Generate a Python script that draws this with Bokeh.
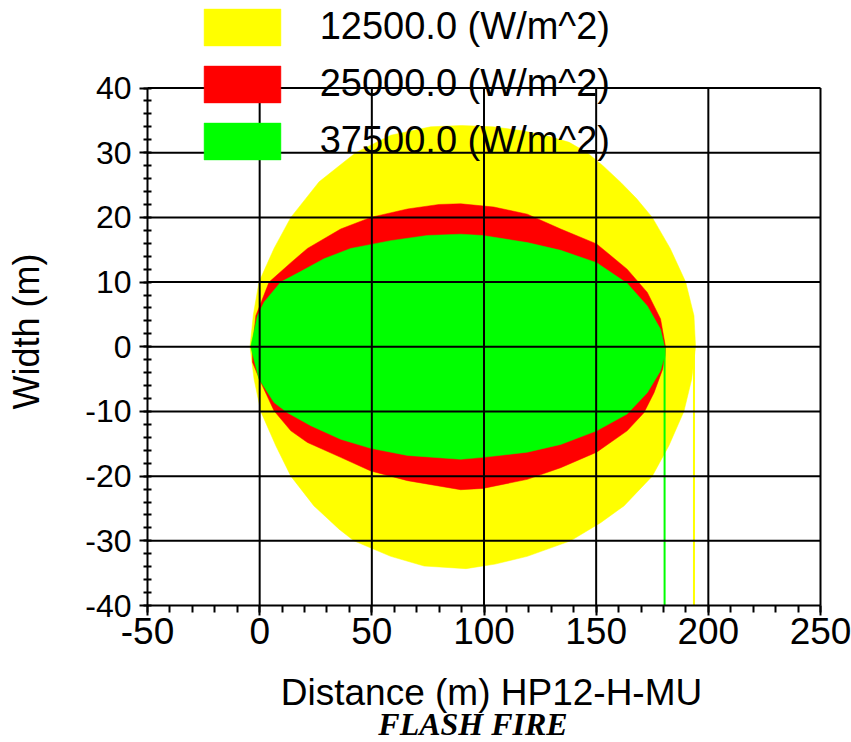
import math
from bokeh.plotting import figure
from bokeh.models import (Range1d, Legend, LegendItem, Label, SingleIntervalTicker,
                          NumeralTickFormatter, ColumnDataSource)
from bokeh.embed import file_html
from bokeh.resources import INLINE

# Flash-fire radiation contours (distance along wind, width across wind), metres
levels = ["12500.0 (W/m^2)", "25000.0 (W/m^2)", "37500.0 (W/m^2)"]
colors = ["#FFFF00", "#FF0000", "#00FF00"]

yellow_x = [-4.3, -2.8, -0.3, 6.4, 13.9, 26.5, 42.8, 58.4, 76.2, 90.0, 104.0, 117.0,
            128.0, 138.0, 146.0, 153.0, 161.0, 168.0, 175.0, 183.0, 189.9, 193.6, 194.3,
            192.6, 189.1, 182.4, 175.0, 162.4, 152.0, 138.6, 119.3, 105.0, 92.0, 73.3,
            58.4, 42.0, 35.4, 24.2, 13.9, 7.2, 0.5, -2.5]
yellow_y = [0.0, 5.0, 10.0, 15.2, 20.0, 25.5, 30.0, 32.7, 34.0, 34.2, 34.0, 33.4,
            32.6, 31.6, 30.0, 28.0, 25.4, 22.9, 20.0, 15.2, 10.0, 4.8, 0.0,
            -5.0, -10.0, -15.3, -20.0, -24.6, -27.2, -30.0, -32.4, -33.6, -34.3, -33.9,
            -32.4, -30.0, -28.2, -24.6, -20.0, -15.3, -10.0, -5.0]

red_x = [-3.2, -1.7, 4.2, 13.9, 21.3, 36.1, 49.5, 65.9, 80.0, 89.6, 104.4, 119.3,
         134.2, 150.2, 163.8, 172.8, 178.7, 180.9,
         180.7, 179.6, 175.8, 171.3, 163.8, 150.2, 134.2, 119.3, 99.5, 89.6, 65.9,
         49.5, 36.1, 21.3, 13.9, 6.4, 0.5, -3.2]
red_y = [0.0, 4.8, 10.0, 13.0, 15.2, 18.2, 20.0, 21.3, 22.0, 22.1, 21.6, 20.5,
         18.2, 15.9, 12.0, 8.4, 4.3, 0.0,
         -1.4, -3.5, -7.1, -10.2, -13.0, -16.3, -18.7, -20.5, -21.9, -22.1, -20.7,
         -19.2, -17.1, -14.8, -13.0, -9.9, -5.5, -2.4]

green_x = [-4.0, -1.0, 2.0, 9.4, 17.6, 28.7, 40.6, 58.4, 74.7, 89.6, 99.5, 119.3,
           134.2, 150.2, 163.8, 172.8, 178.7, 180.5,
           180.5, 178.7, 172.8, 163.8, 150.2, 134.2, 119.3, 99.5, 89.6, 65.9,
           49.5, 36.1, 22.8, 12.4, 6.4, -0.3]
green_y = [0.0, 4.8, 6.9, 10.0, 11.5, 13.6, 15.2, 16.4, 17.2, 17.4, 17.2, 16.1,
           14.9, 13.0, 9.8, 6.3, 2.7, 0.0,
           -1.4, -3.7, -7.1, -10.4, -13.0, -15.1, -16.3, -17.1, -17.4, -16.8,
           -15.7, -14.3, -12.2, -10.2, -8.6, -5.0]

# contour closing lines running down to the lower edge
rim_x = [180.5, 193.6]
rim_top = [0.0, 0.0]
rim_bottom = [-40.0, -40.0]
rim_colors = ["#00FF00", "#FFFF00"]

# axis extents and grid positions
x_lo, x_hi = -50, 250
y_lo, y_hi = -40, 40
grid_x = [0, 50, 100, 150, 200, 250]
grid_y = [-30, -20, -10, 0, 10, 20, 30, 40]

FONT = "Liberation Sans"
W, H = 851, 742
# pixel box of the data area inside the canvas
BOX_L, BOX_R, BOX_T, BOX_B = 147, 820, 87.5, 605

kx = (BOX_R - BOX_L) / (x_hi - x_lo)
ky = (BOX_B - BOX_T) / (y_hi - y_lo)
x_range = Range1d(x_lo - BOX_L / kx, x_hi + (W - BOX_R) / kx)
y_range = Range1d(y_lo - (H - BOX_B) / ky, y_hi + BOX_T / ky)

p = figure(width=W, height=H, x_range=x_range, y_range=y_range,
           output_backend="svg", toolbar_location=None, min_border=0)
p.background_fill_color = "white"
p.border_fill_color = "white"
p.outline_line_color = None
p.xgrid.visible = False
p.ygrid.visible = False

shapes = [(yellow_x, yellow_y), (red_x, red_y), (green_x, green_y)]
renderers = []
for (xs, ys), c in zip(shapes, colors):
    r = p.patch(xs, ys, fill_color=c, line_color=c, line_width=0.5)
    renderers.append(r)

rims = ColumnDataSource(dict(x=rim_x, top=rim_top, bottom=rim_bottom, color=rim_colors))
p.segment(x0="x", y0="top", x1="x", y1="bottom", color="color", line_width=2, source=rims)

# grid lines over the filled contours, closed by the top and right borders
p.segment(x0=grid_x, y0=[y_lo] * len(grid_x), x1=grid_x, y1=[y_hi] * len(grid_x),
          line_color="black", line_width=2)
p.segment(x0=[x_lo] * len(grid_y), y0=grid_y, x1=[x_hi] * len(grid_y), y1=grid_y,
          line_color="black", line_width=2)

# axes pinned to the lower-left corner of the data box
p.xaxis.fixed_location = y_lo
p.xaxis.bounds = (x_lo, x_hi)
p.yaxis.fixed_location = x_lo
p.yaxis.bounds = (y_lo, y_hi)
p.xaxis.ticker = SingleIntervalTicker(interval=50, num_minor_ticks=5)
p.yaxis.ticker = SingleIntervalTicker(interval=10, num_minor_ticks=5)
for ax in (p.xaxis[0], p.yaxis[0]):
    ax.formatter = NumeralTickFormatter(format="0")
    ax.axis_line_color = "black"
    ax.axis_line_width = 2
    ax.major_tick_line_color = "black"
    ax.major_tick_line_width = 2
    ax.minor_tick_line_color = "black"
    ax.minor_tick_line_width = 2
    ax.major_label_text_font = FONT
    ax.major_label_text_color = "black"

p.xaxis.major_label_text_font_size = "37px"
p.xaxis.major_tick_in = 0
p.xaxis.major_tick_out = 10
p.xaxis.minor_tick_in = 0
p.xaxis.minor_tick_out = 7
p.xaxis.major_label_standoff = 2

p.yaxis.major_label_text_font_size = "32px"
p.yaxis.major_tick_in = 0
p.yaxis.major_tick_out = 8
p.yaxis.minor_tick_in = 4
p.yaxis.minor_tick_out = 4
p.yaxis.major_label_standoff = 8

# axis titles and caption (screen positions measured from the lower-left corner)
p.add_layout(Label(x=26, y=H - 331, x_units="screen", y_units="screen",
                   text="Width (m)", angle=math.pi / 2, text_align="center",
                   text_baseline="alphabetic", text_font=FONT, text_font_size="36px",
                   text_color="black"))
p.add_layout(Label(x=491, y=H - 692, x_units="screen", y_units="screen",
                   text="Distance (m) HP12-H-MU", text_align="center",
                   text_baseline="alphabetic", text_font=FONT, text_font_size="37px",
                   text_color="black"))
p.add_layout(Label(x=472.5, y=H - 723, x_units="screen", y_units="screen",
                   text="FLASH FIRE", text_align="center", text_baseline="alphabetic",
                   text_font="Liberation Serif", text_font_style="bold italic",
                   text_font_size="32px", text_color="black"))

legend = Legend(items=[LegendItem(label=l, renderers=[r]) for l, r in zip(levels, renderers)],
                location=(193.7, H - 163.7))
legend.glyph_width = 96
legend.glyph_height = 46
legend.label_height = 46
legend.spacing = 11
legend.padding = 0
legend.margin = 0
legend.label_standoff = 30
legend.label_text_font = FONT
legend.label_text_font_size = "38px"
legend.label_text_color = "black"
legend.background_fill_alpha = 0
legend.border_line_alpha = 0
p.add_layout(legend)

open("out.html", "w").write(file_html(p, INLINE))
